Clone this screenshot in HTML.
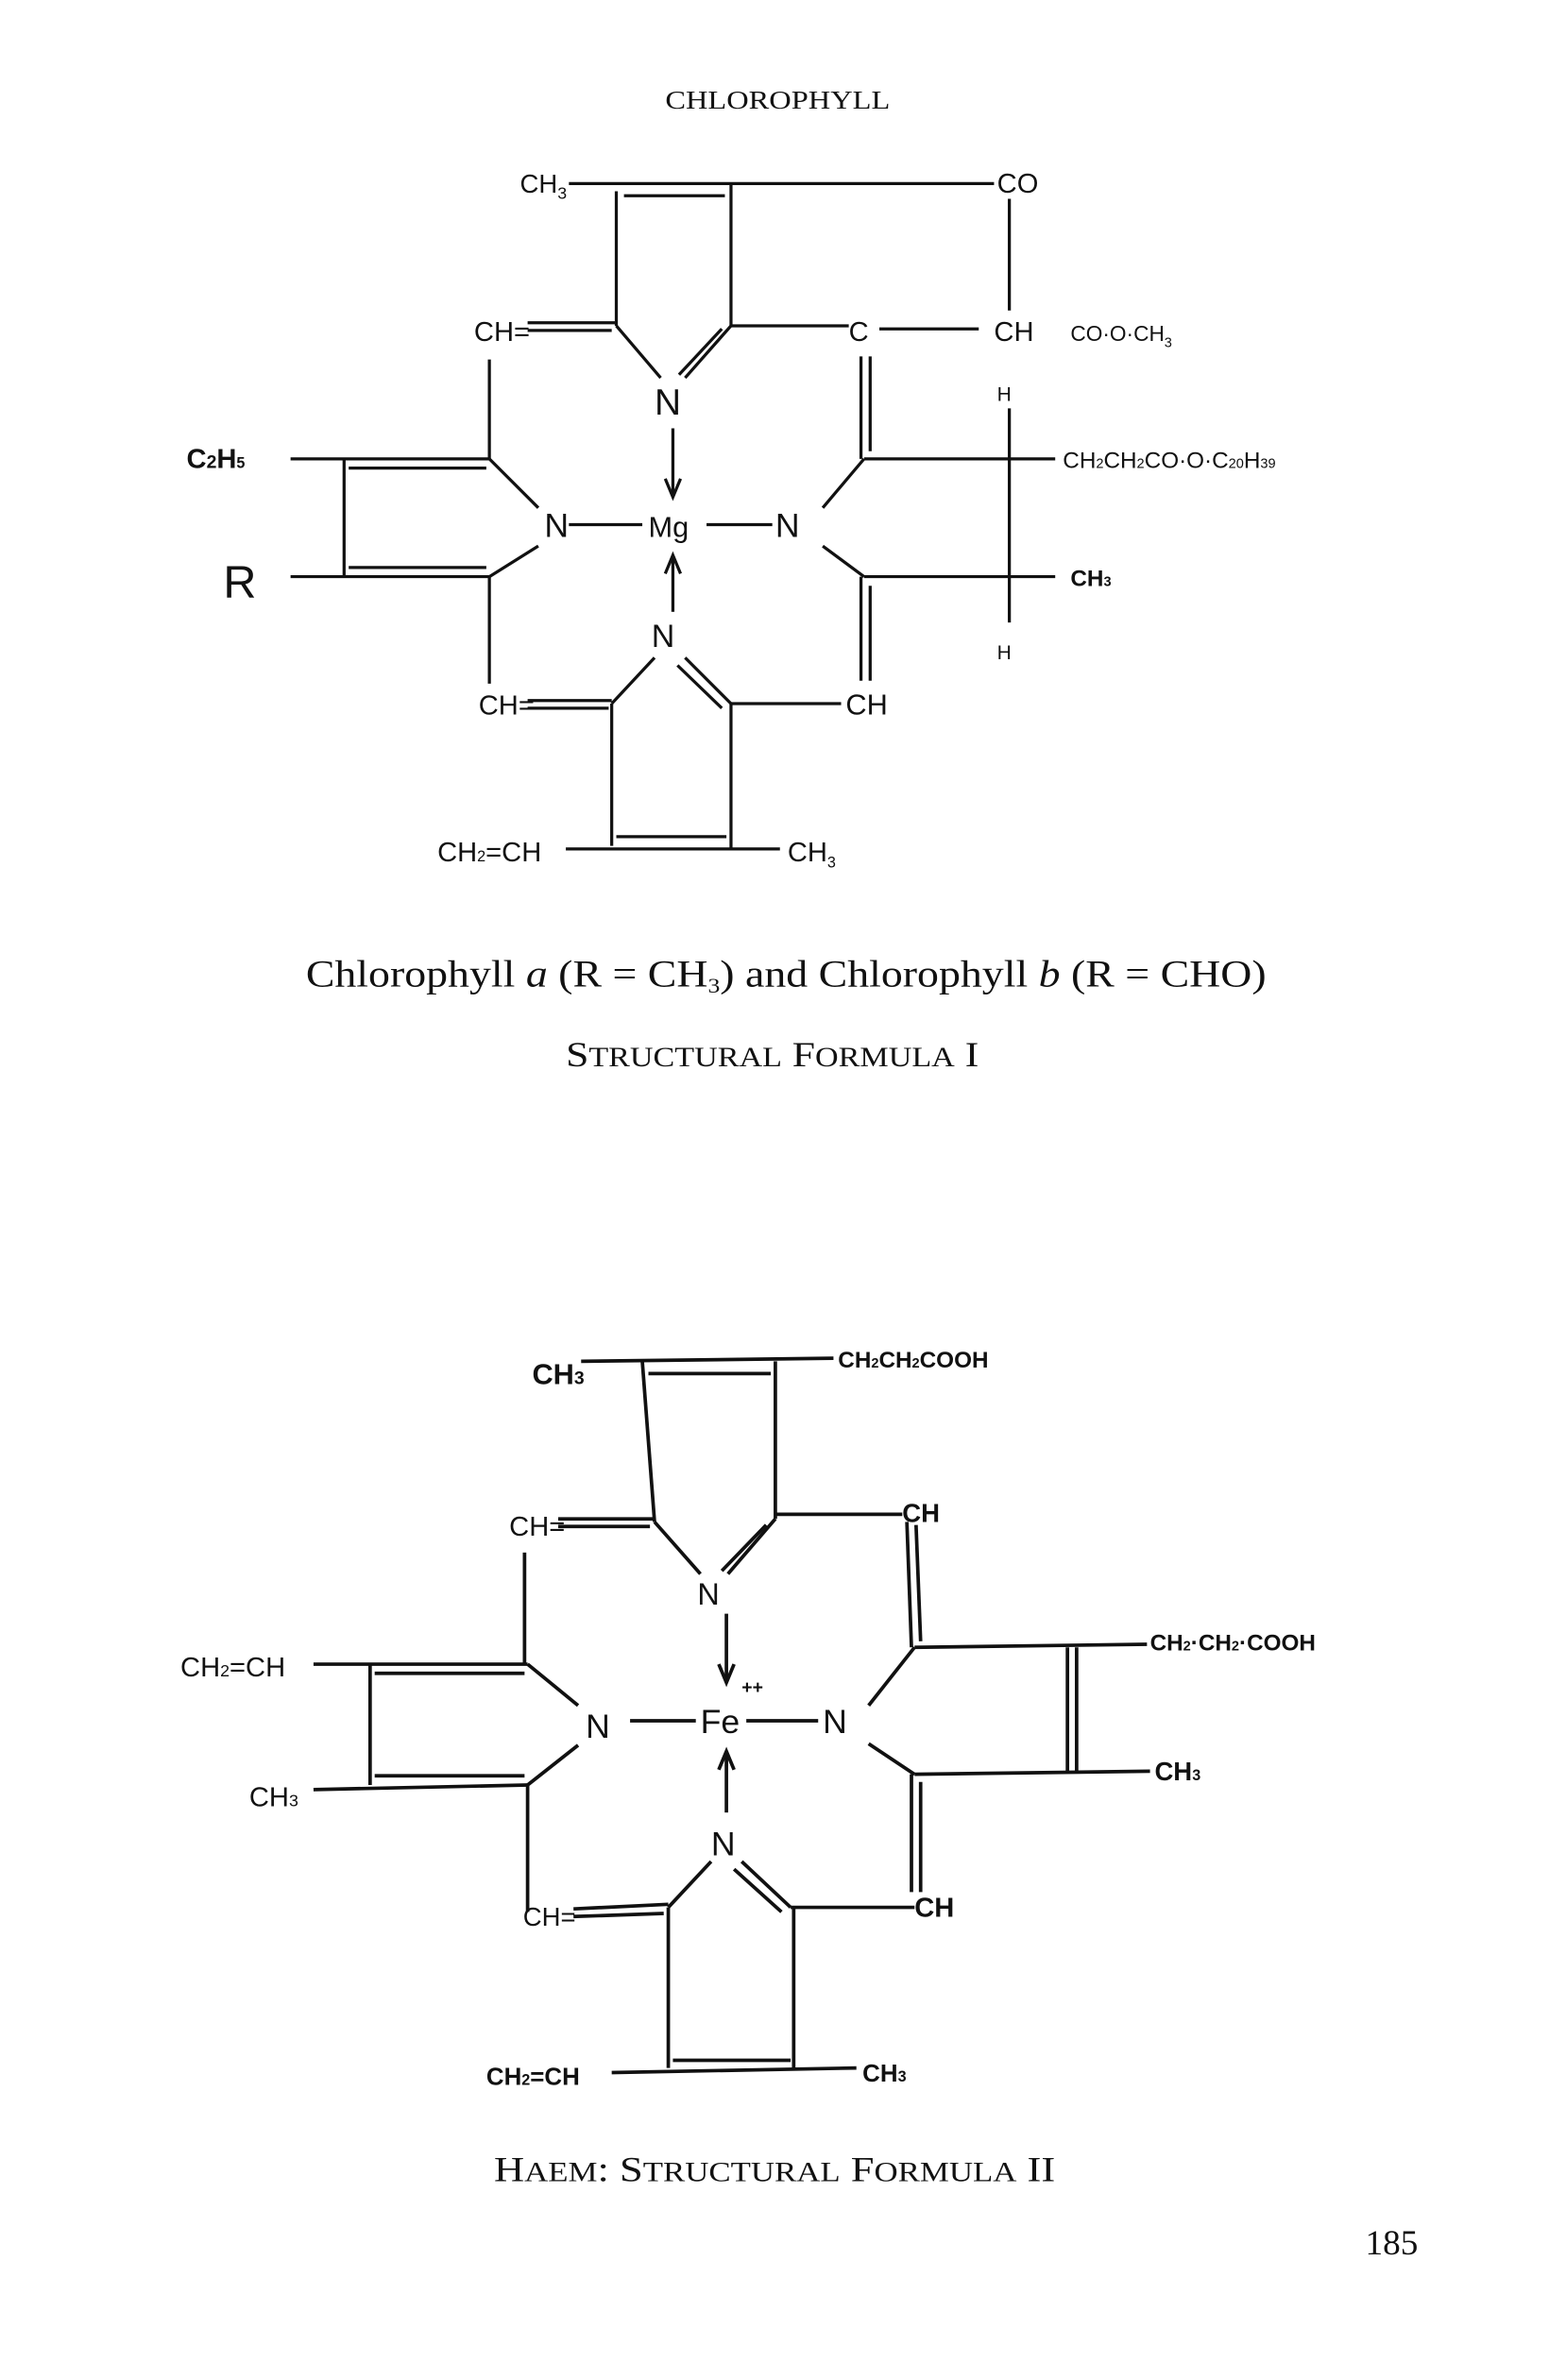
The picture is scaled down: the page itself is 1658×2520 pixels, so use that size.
<!DOCTYPE html>
<html><head><meta charset="utf-8"><style>
html,body{margin:0;padding:0;background:#fff}
svg{display:block}
.h{font-family:"Liberation Sans",sans-serif;fill:#111}
.s{font-family:"Liberation Serif",serif;fill:#111}
</style></head><body>
<svg width="1658" height="2520" viewBox="0 0 1024 1556" preserveAspectRatio="none" xmlns="http://www.w3.org/2000/svg">
<g transform="translate(0,-5)">
<g stroke="#111" stroke-width="2" fill="none">
<line x1="372" y1="125" x2="650" y2="125"/>
<line x1="408" y1="133" x2="474" y2="133"/>
<line x1="403" y1="130" x2="403" y2="218"/>
<line x1="478" y1="125" x2="478" y2="218"/>
<line x1="345" y1="216" x2="403" y2="216"/><line x1="345" y1="221" x2="400" y2="221"/>
<line x1="403" y1="218" x2="432" y2="252"/>
<line x1="478" y1="218" x2="448" y2="252"/><line x1="472" y1="220" x2="444" y2="250"/>
<line x1="478" y1="218" x2="555" y2="218"/>
<line x1="575" y1="220" x2="640" y2="220"/>
<line x1="660" y1="135" x2="660" y2="208"/>
<line x1="660" y1="272" x2="660" y2="412"/>
<line x1="440" y1="285" x2="440" y2="328"/><polyline points="435,318 440,330 445,318"/>
<line x1="372" y1="348" x2="420" y2="348"/><line x1="462" y1="348" x2="505" y2="348"/>
<line x1="440" y1="405" x2="440" y2="370"/><polyline points="435,380 440,368 445,380"/>
<line x1="190" y1="305" x2="320" y2="305"/><line x1="228" y1="311" x2="318" y2="311"/>
<line x1="225" y1="305" x2="225" y2="382"/>
<line x1="190" y1="382" x2="320" y2="382"/><line x1="228" y1="376" x2="318" y2="376"/>
<line x1="320" y1="305" x2="352" y2="337"/><line x1="320" y1="382" x2="352" y2="362"/>
<line x1="320" y1="240" x2="320" y2="305"/><line x1="320" y1="382" x2="320" y2="452"/>
<line x1="538" y1="337" x2="565" y2="305"/><line x1="538" y1="362" x2="565" y2="382"/>
<line x1="565" y1="305" x2="690" y2="305"/><line x1="565" y1="382" x2="690" y2="382"/>
<line x1="563" y1="238" x2="563" y2="305"/><line x1="569" y1="238" x2="569" y2="300"/>
<line x1="563" y1="382" x2="563" y2="450"/><line x1="569" y1="388" x2="569" y2="450"/>
<line x1="428" y1="435" x2="400" y2="465"/>
<line x1="448" y1="435" x2="478" y2="465"/><line x1="443" y1="440" x2="472" y2="468"/>
<line x1="345" y1="463" x2="400" y2="463"/><line x1="345" y1="468" x2="398" y2="468"/>
<line x1="478" y1="465" x2="550" y2="465"/>
<line x1="400" y1="465" x2="400" y2="558"/><line x1="478" y1="465" x2="478" y2="560"/>
<line x1="370" y1="560" x2="510" y2="560"/><line x1="403" y1="552" x2="475" y2="552"/>
<g stroke-width="2.3">
<line x1="380" y1="895" x2="545" y2="893"/><line x1="424" y1="903" x2="504" y2="903"/>
<line x1="420" y1="895" x2="428" y2="1000"/><line x1="507" y1="895" x2="507" y2="998"/>
<line x1="365" y1="998" x2="428" y2="998"/><line x1="365" y1="1003" x2="425" y2="1003"/>
<line x1="428" y1="1000" x2="458" y2="1034"/>
<line x1="507" y1="998" x2="476" y2="1034"/><line x1="501" y1="1002" x2="472" y2="1032"/>
<line x1="507" y1="995" x2="590" y2="995"/>
<line x1="475" y1="1060" x2="475" y2="1103"/><polyline points="470,1093 475,1105 480,1093"/>
<line x1="412" y1="1130" x2="455" y2="1130"/><line x1="488" y1="1130" x2="535" y2="1130"/>
<line x1="205" y1="1093" x2="345" y2="1093"/><line x1="245" y1="1099" x2="343" y2="1099"/>
<line x1="242" y1="1093" x2="242" y2="1172"/>
<line x1="205" y1="1175" x2="345" y2="1172"/><line x1="245" y1="1166" x2="343" y2="1166"/>
<line x1="345" y1="1093" x2="378" y2="1120"/><line x1="345" y1="1172" x2="378" y2="1146"/>
<line x1="343" y1="1020" x2="343" y2="1093"/><line x1="345" y1="1172" x2="345" y2="1255"/>
<line x1="568" y1="1120" x2="598" y2="1082"/><line x1="568" y1="1145" x2="598" y2="1165"/>
<line x1="598" y1="1082" x2="750" y2="1080"/><line x1="598" y1="1165" x2="752" y2="1163"/>
<line x1="698" y1="1082" x2="698" y2="1163"/><line x1="704" y1="1082" x2="704" y2="1163"/>
<line x1="593" y1="1000" x2="596" y2="1082"/><line x1="599" y1="1002" x2="602" y2="1078"/>
<line x1="596" y1="1165" x2="596" y2="1242"/><line x1="602" y1="1170" x2="602" y2="1242"/>
<line x1="475" y1="1190" x2="475" y2="1152"/><polyline points="470,1162 475,1150 480,1162"/>
<line x1="465" y1="1222" x2="437" y2="1252"/>
<line x1="485" y1="1222" x2="517" y2="1252"/><line x1="480" y1="1227" x2="511" y2="1255"/>
<line x1="375" y1="1253" x2="437" y2="1250"/><line x1="375" y1="1258" x2="434" y2="1256"/>
<line x1="517" y1="1252" x2="598" y2="1252"/>
<line x1="437" y1="1252" x2="437" y2="1357"/><line x1="519" y1="1252" x2="519" y2="1357"/>
<line x1="400" y1="1360" x2="560" y2="1357"/><line x1="440" y1="1352" x2="517" y2="1352"/>
</g>
</g>
<g class="h">
<text x="340" y="131" font-size="17">CH<tspan font-size="11" dy="4">3</tspan></text>
<text x="652" y="131" font-size="18">CO</text>
<text x="310" y="228" font-size="18">CH=</text>
<text x="555" y="228" font-size="18">C</text>
<text x="650" y="228" font-size="18">CH</text>
<text x="700" y="228" font-size="14">CO·O·CH<tspan font-size="9" dy="4">3</tspan></text>
<text x="652" y="267" font-size="13">H</text>
<text x="652" y="436" font-size="13">H</text>
<text x="428" y="276" font-size="24">N</text>
<text x="424" y="356" font-size="19">Mg</text>
<text x="356" y="356" font-size="22">N</text>
<text x="507" y="356" font-size="22">N</text>
<text x="426" y="428" font-size="21">N</text>
<text x="122" y="311" font-size="18" font-weight="bold">C<tspan font-size="12">2</tspan>H<tspan font-size="10">5</tspan></text>
<text x="146" y="396" font-size="30">R</text>
<text x="695" y="311" font-size="15">CH<tspan font-size="9">2</tspan>CH<tspan font-size="9">2</tspan>CO·O·C<tspan font-size="9">20</tspan>H<tspan font-size="9">39</tspan></text>
<text x="700" y="388" font-size="15" font-weight="bold">CH<tspan font-size="9">3</tspan></text>
<text x="313" y="472" font-size="18">CH=</text>
<text x="553" y="472" font-size="19">CH</text>
<text x="286" y="568" font-size="18">CH<tspan font-size="10">2</tspan>=CH</text>
<text x="515" y="568" font-size="18">CH<tspan font-size="10" dy="4">3</tspan></text>
</g>
<g class="h" font-weight="bold">
<text x="348" y="910" font-size="19">CH<tspan font-size="12">3</tspan></text>
<text x="548" y="899" font-size="15">CH<tspan font-size="9">2</tspan>CH<tspan font-size="9">2</tspan>COOH</text>
<text x="333" y="1009" font-size="18" font-weight="normal">CH=</text>
<text x="590" y="1000" font-size="17">CH</text>
<text x="456" y="1054" font-size="20" font-weight="normal">N</text>
<text x="458" y="1138" font-size="22" font-weight="normal">Fe</text>
<text x="485" y="1112" font-size="12">++</text>
<text x="383" y="1141" font-size="22" font-weight="normal">N</text>
<text x="538" y="1138" font-size="22" font-weight="normal">N</text>
<text x="465" y="1218" font-size="22" font-weight="normal">N</text>
<text x="118" y="1101" font-size="18" font-weight="normal">CH<tspan font-size="11">2</tspan>=CH</text>
<text x="163" y="1186" font-size="18" font-weight="normal">CH<tspan font-size="11">3</tspan></text>
<text x="752" y="1084" font-size="15">CH<tspan font-size="9">2</tspan>·CH<tspan font-size="9">2</tspan>·COOH</text>
<text x="755" y="1169" font-size="17">CH<tspan font-size="10">3</tspan></text>
<text x="342" y="1264" font-size="17" font-weight="normal">CH=</text>
<text x="598" y="1258" font-size="18">CH</text>
<text x="318" y="1368" font-size="16">CH<tspan font-size="10">2</tspan>=CH</text>
<text x="564" y="1366" font-size="16">CH<tspan font-size="10">3</tspan></text>
</g>
</g>
<text class="s" x="435" y="71" font-size="17" textLength="147" lengthAdjust="spacingAndGlyphs">CHLOROPHYLL</text>
<text class="s" x="200" y="645" font-size="25" textLength="628" lengthAdjust="spacingAndGlyphs">Chlorophyll <tspan font-style="italic">a</tspan> (R = CH<tspan font-size="14" dy="4">3</tspan><tspan dy="-4">) and Chlorophyll </tspan><tspan font-style="italic">b</tspan> (R  = CHO)</text>
<text class="s" x="370" y="697" font-size="23" textLength="270" lengthAdjust="spacingAndGlyphs">S<tspan font-size="18">TRUCTURAL</tspan>  F<tspan font-size="18">ORMULA</tspan>  I</text>
<text class="s" x="323" y="1426" font-size="23" textLength="367" lengthAdjust="spacingAndGlyphs">H<tspan font-size="18">AEM</tspan>:  S<tspan font-size="18">TRUCTURAL</tspan>  F<tspan font-size="18">ORMULA</tspan>  II</text>
<text class="s" x="910" y="1474" font-size="23" text-anchor="middle">185</text>
</svg>
</body></html>
